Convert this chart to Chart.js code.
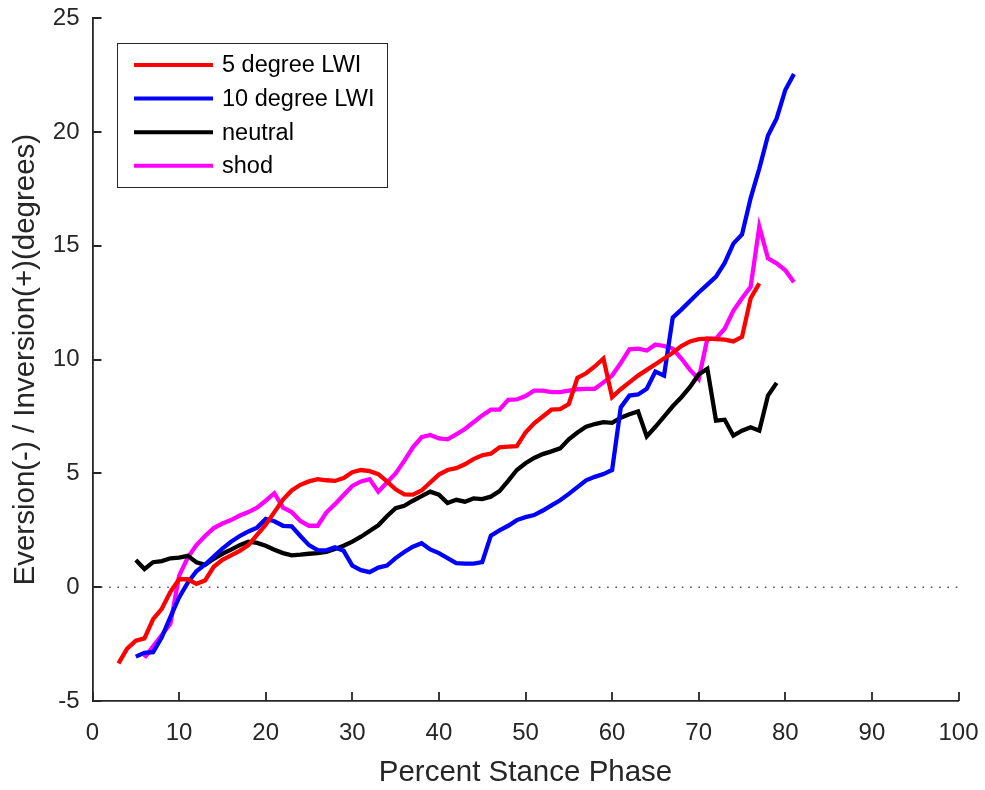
<!DOCTYPE html>
<html>
<head>
<meta charset="utf-8">
<script src="https://cdn.jsdelivr.net/npm/chart.js@4/dist/chart.umd.min.js"></script>
<style>
  body { margin: 0; background: #fff; }
  #wrap { width: 985px; height: 790px; }
</style>
</head>
<body>
<div id="wrap"><canvas id="stanceChart"></canvas></div>
<script>
// series: y values at each integer percent of stance, starting at the given percent
const lwi5Start = 3;
const lwi5 = [-3.35, -2.7, -2.35, -2.25, -1.4, -0.95, -0.2, 0.35, 0.35, 0.15,
  0.3, 0.9, 1.2, 1.4, 1.6, 1.85, 2.3, 2.75, 3.3, 3.85,
  4.25, 4.5, 4.65, 4.75, 4.7, 4.67, 4.8, 5.05, 5.15, 5.1,
  4.97, 4.65, 4.3, 4.08, 4.07, 4.25, 4.6, 4.95, 5.15, 5.23,
  5.4, 5.63, 5.8, 5.87, 6.15, 6.18, 6.2, 6.8, 7.2, 7.5,
  7.8, 7.83, 8.05, 9.2, 9.4, 9.7, 10.05, 8.35, 8.7, 9.0,
  9.3, 9.55, 9.8, 10.05, 10.3, 10.6, 10.8, 10.9, 10.92, 10.9,
  10.88, 10.8, 11.0, 12.7, 13.35];

const lwi10Start = 5;
const lwi10 = [-3.05, -2.88, -2.85, -2.2, -1.3, -0.45, 0.2, 0.7, 1.0, 1.35,
  1.7, 2.0, 2.25, 2.45, 2.62, 3.0, 2.9, 2.7, 2.68, 2.25,
  1.85, 1.63, 1.62, 1.75, 1.6, 0.95, 0.75, 0.66, 0.86, 0.95,
  1.28, 1.55, 1.78, 1.93, 1.66, 1.5, 1.28, 1.06, 1.04, 1.04,
  1.1, 2.27, 2.5, 2.7, 2.95, 3.08, 3.17, 3.37, 3.6, 3.82,
  4.1, 4.4, 4.7, 4.85, 4.97, 5.15, 7.9, 8.42, 8.47, 8.72,
  9.48, 9.3, 11.85, 12.2, 12.58, 12.95, 13.3, 13.65, 14.25, 15.1,
  15.5, 17.1, 18.4, 19.85, 20.6, 21.85, 22.55];

const neutralStart = 5;
const neutral = [1.2, 0.8, 1.1, 1.15, 1.27, 1.3, 1.38, 1.1, 0.98, 1.25,
  1.47, 1.65, 1.85, 2.0, 1.95, 1.82, 1.65, 1.5, 1.4, 1.43,
  1.47, 1.5, 1.55, 1.68, 1.82, 2.0, 2.22, 2.47, 2.72, 3.12,
  3.47, 3.58, 3.8, 4.0, 4.2, 4.07, 3.7, 3.84, 3.76, 3.9,
  3.87, 3.98, 4.22, 4.67, 5.15, 5.45, 5.68, 5.85, 5.97, 6.1,
  6.5, 6.8, 7.05, 7.17, 7.25, 7.22, 7.45, 7.6, 7.72, 6.63,
  7.05, 7.5, 7.95, 8.35, 8.8, 9.35, 9.6, 7.32, 7.36, 6.66,
  6.88, 7.03, 6.88, 8.42, 8.98];

const shodStart = 6;
const shod = [-3.1, -2.6, -2.1, -1.6, 0.5, 1.3, 1.85, 2.25, 2.6, 2.8,
  2.95, 3.15, 3.3, 3.5, 3.8, 4.13, 3.5, 3.3, 2.91, 2.7,
  2.7, 3.28, 3.65, 4.05, 4.45, 4.65, 4.75, 4.2, 4.6, 5.0,
  5.55, 6.15, 6.59, 6.69, 6.54, 6.5, 6.72, 6.95, 7.25, 7.55,
  7.8, 7.8, 8.23, 8.25, 8.4, 8.64, 8.64, 8.57, 8.57, 8.64,
  8.7, 8.72, 8.72, 9.0, 9.3, 9.85, 10.45, 10.48, 10.4, 10.66,
  10.6, 10.48, 10.05, 9.55, 9.15, 10.92, 10.92, 11.36, 12.15, 12.7,
  13.2, 15.85, 14.45, 14.23, 13.93, 13.4];

const seriesNames = ['5 degree LWI', '10 degree LWI', 'neutral', 'shod'];
const seriesColors = ['#ff0000', '#0000ff', '#000000', '#ff00ff'];
const xTicks = [0, 10, 20, 30, 40, 50, 60, 70, 80, 90, 100];
const yTicks = [-5, 0, 5, 10, 15, 20, 25];
const zeroLine = [{x: 0, y: 0}, {x: 100, y: 0}];

function toPoints(start, ys) {
  return ys.map((v, i) => ({x: start + i, y: v}));
}

const AXIS = '#262626';
const FONT = "'Liberation Sans', Arial, sans-serif";

// ticks point inward, like the original figure
const innerTicks = {
  id: 'innerTicks',
  afterDraw(chart) {
    const ctx = chart.ctx, a = chart.chartArea;
    const xs = chart.scales.x, ys = chart.scales.y;
    ctx.save();
    ctx.strokeStyle = AXIS;
    ctx.lineWidth = 1.8;
    ctx.beginPath();
    xTicks.forEach(t => {
      const px = Math.round(xs.getPixelForValue(t));
      ctx.moveTo(px, a.bottom);
      ctx.lineTo(px, a.bottom - 9);
    });
    yTicks.forEach(t => {
      const py = Math.round(ys.getPixelForValue(t));
      ctx.moveTo(a.left, py);
      ctx.lineTo(a.left + 9, py);
    });
    ctx.stroke();
    ctx.restore();
  }
};

// legend box inside the plot, top left
const boxLegend = {
  id: 'boxLegend',
  afterDraw(chart) {
    const ctx = chart.ctx;
    const bx = 117, by = 43, bw = 270, bh = 144;
    ctx.save();
    ctx.fillStyle = '#fff';
    ctx.fillRect(bx, by, bw, bh);
    ctx.strokeStyle = AXIS;
    ctx.lineWidth = 1;
    ctx.strokeRect(bx + 0.5, by + 0.5, bw, bh);
    ctx.font = '23.5px ' + FONT;
    ctx.textBaseline = 'middle';
    seriesNames.forEach((name, i) => {
      const y = 65 + i * 33.6;
      ctx.strokeStyle = seriesColors[i];
      ctx.lineWidth = 4;
      ctx.beginPath();
      ctx.moveTo(134, y);
      ctx.lineTo(213, y);
      ctx.stroke();
      ctx.fillStyle = '#000';
      ctx.fillText(name, 222, y + 1);
    });
    ctx.restore();
  }
};

const starts = [lwi5Start, lwi10Start, neutralStart, shodStart];
const values = [lwi5, lwi10, neutral, shod];

const datasets = seriesNames.map((name, i) => ({
  label: name,
  data: toPoints(starts[i], values[i]),
  borderColor: seriesColors[i],
  backgroundColor: seriesColors[i],
  borderWidth: 4.3,
  pointRadius: 0,
  tension: 0,
  order: i
}));
datasets.push({
  label: 'zero',
  data: zeroLine,
  borderColor: '#555555',
  borderWidth: 1.6,
  borderDash: [1.6, 6.7],
  pointRadius: 0,
  order: 10
});

new Chart(document.getElementById('stanceChart'), {
  type: 'line',
  data: { datasets: datasets },
  options: {
    responsive: true,
    maintainAspectRatio: false,
    animation: false,
    layout: { padding: { left: 0, right: 26.5, top: 18.3, bottom: 0 } },
    plugins: {
      legend: { display: false },
      tooltip: { enabled: false }
    },
    scales: {
      x: {
        type: 'linear',
        min: 0,
        max: 100,
        afterFit(s) { s.height = 89; s.paddingLeft = 0; s.paddingRight = 0; },
        afterBuildTicks(s) { s.ticks = xTicks.map(v => ({value: v})); },
        grid: { display: false, drawTicks: false },
        border: { display: true, color: AXIS, width: 1.8 },
        ticks: { color: AXIS, font: { family: FONT, size: 24 }, padding: 18, maxRotation: 0 },
        title: {
          display: true,
          text: 'Percent Stance Phase',
          color: AXIS,
          font: { family: FONT, size: 29.5 },
          padding: { top: 2, bottom: -1 }
        }
      },
      y: {
        type: 'linear',
        min: -5,
        max: 25,
        afterFit(s) { s.width = 92.5; s.paddingTop = 0; s.paddingBottom = 0; },
        afterBuildTicks(s) { s.ticks = yTicks.map(v => ({value: v})); },
        grid: { display: false, drawTicks: false },
        border: { display: true, color: AXIS, width: 1.8 },
        ticks: { color: AXIS, font: { family: FONT, size: 24 }, padding: 13 },
        title: {
          display: true,
          text: 'Eversion(-) / Inversion(+)(degrees)',
          color: AXIS,
          font: { family: FONT, size: 29.5 },
          padding: { top: 8, bottom: 2 }
        }
      }
    }
  },
  plugins: [innerTicks, boxLegend]
});
</script>
</body>
</html>
